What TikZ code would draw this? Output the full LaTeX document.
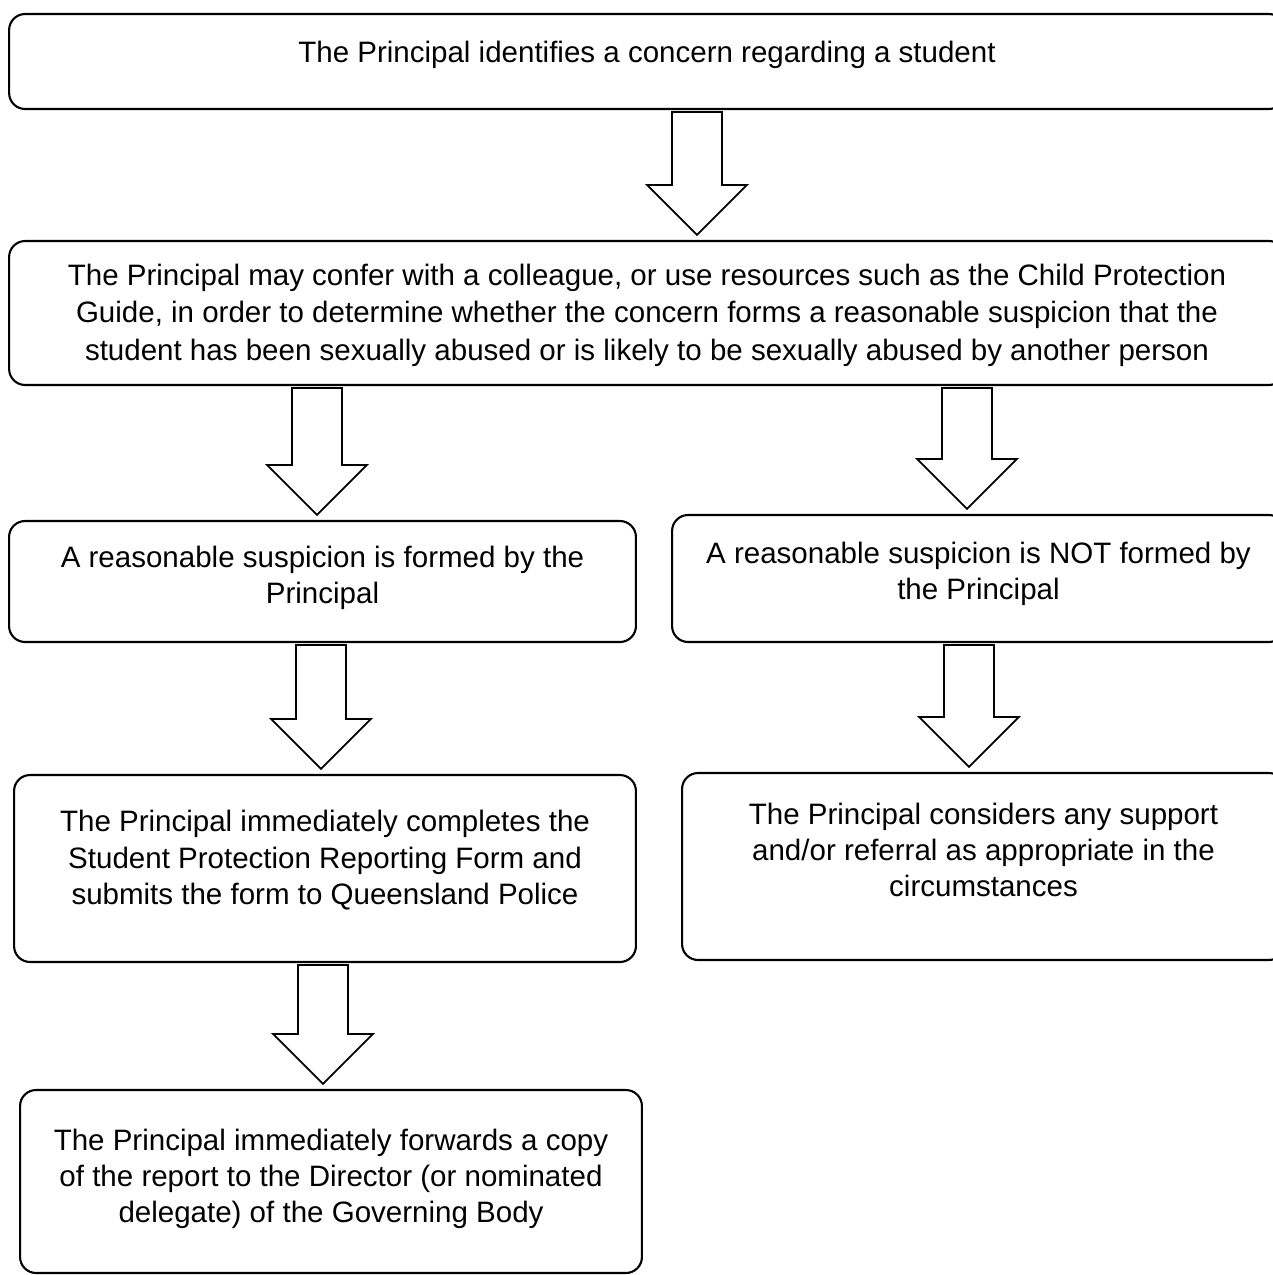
\documentclass[tikz,border=0pt]{standalone}
\usepackage{fontspec}
\setmainfont{Liberation Sans}
\usetikzlibrary{calc}

% hollow block arrow from the bottom of one box to the top of the next
\newcommand\blockarrow[3]{%
  \draw[hollow] let \p1=(#1,0 |- #2.south), \p2=(#1,0 |- #3.north) in
    (\x1-0.5cm,\y1-0.04cm) -- (\x1+0.5cm,\y1-0.04cm) -- (\x1+0.5cm,\y2+1.1cm)
    -- (\x1+1cm,\y2+1.1cm) -- (\x1,\y2+0.1cm) -- (\x1-1cm,\y2+1.1cm)
    -- (\x1-0.5cm,\y2+1.1cm) -- cycle;}

\begin{document}
\begin{tikzpicture}[
  x=0.02cm, y=-0.02cm,
  box/.style={
    rectangle, rounded corners=0.32cm,
    draw=black, line width=1.2pt, fill=white,
    align=center, font={\fontsize{16.8}{20.6}\selectfont}
  },
  hollow/.style={draw=black, line width=1pt, fill=white}
]
\clip (0,0) rectangle (1273,1275);

\node[box, minimum width=25.52cm, minimum height=1.9cm, text depth=11pt]
  (concern) at (647,61.5)
  {The Principal identifies a concern regarding a student};

\node[box, minimum width=25.52cm, minimum height=2.88cm, text depth=1pt,
      font={\fontsize{16.8}{21.2}\selectfont}]
  (confer) at (647,313)
  {The Principal may confer with a colleague, or use resources such as the Child Protection\\
   Guide, in order to determine whether the concern forms a reasonable suspicion that the\\
   student has been sexually abused or is likely to be sexually abused by another person};

\node[box, minimum width=12.54cm, minimum height=2.42cm, text depth=7.5pt]
  (formed) at (322.5,581.5)
  {A reasonable suspicion is formed by the\\ Principal};

\node[box, minimum width=12.26cm, minimum height=2.54cm, text depth=9.2pt]
  (notformed) at (978.5,578.5)
  {A reasonable suspicion is NOT formed by\\ the Principal};

\node[box, minimum width=12.44cm, minimum height=3.74cm, text depth=12.6pt]
  (report) at (325,868.5)
  {The Principal immediately completes the\\
   Student Protection Reporting Form and\\
   submits the form to Queensland Police};

\node[box, minimum width=12.06cm, minimum height=3.74cm, text depth=18.8pt]
  (support) at (983.5,866.5)
  {The Principal considers any support\\
   and/or referral as appropriate in the\\
   circumstances};

\node[box, minimum width=12.44cm, minimum height=3.66cm, text depth=6.2pt]
  (forward) at (331,1181.5)
  {The Principal immediately forwards a copy\\
   of the report to the Director (or nominated\\
   delegate) of the Governing Body};

\foreach \ax/\from/\to in {697/concern/confer, 317/confer/formed,
    967/confer/notformed, 321/formed/report, 969/notformed/support,
    323/report/forward}
  \blockarrow{\ax}{\from}{\to};
\end{tikzpicture}
\end{document}
